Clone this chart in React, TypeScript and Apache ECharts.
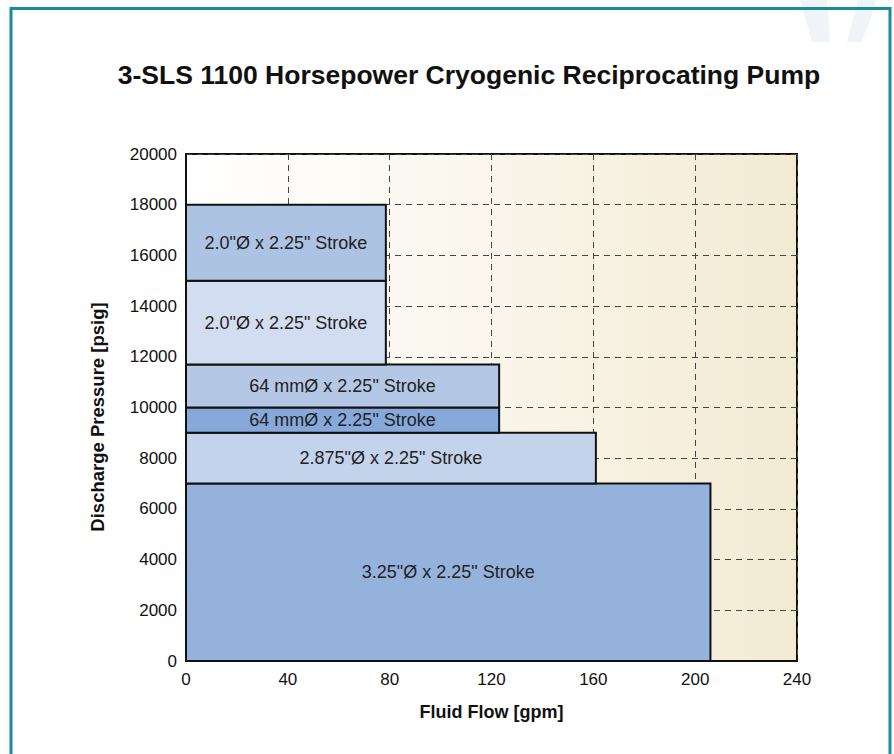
import React, { useEffect, useRef } from "react";
import * as echarts from "echarts";

const titleText = "3-SLS 1100 Horsepower Cryogenic Reciprocating Pump";
const xAxisName = "Fluid Flow [gpm]";
const yAxisName = "Discharge Pressure [psig]";

// Each block: flow range (gpm) and pressure range (psig)
const blockLabels = [
  "3.25\"Ø x 2.25\" Stroke",
  "2.875\"Ø x 2.25\" Stroke",
  "64 mmØ x 2.25\" Stroke",
  "64 mmØ x 2.25\" Stroke",
  "2.0\"Ø x 2.25\" Stroke",
  "2.0\"Ø x 2.25\" Stroke",
];
const flowMin = [0, 0, 0, 0, 0, 0];
const flowMax = [206, 161, 123, 123, 78.5, 78.5];
const pressureMin = [0, 7000, 9000, 10000, 11700, 15000];
const pressureMax = [7000, 9000, 10000, 11700, 15000, 18000];
const blockColors = ["#95b2dc", "#c4d3ec", "#86a8da", "#b4c8e6", "#d2ddf1", "#adc3e4"];

export default function App() {
  const ref = useRef<HTMLDivElement>(null);
  useEffect(() => {
    if (!ref.current) return;
    const chart = echarts.init(ref.current, null, { renderer: "svg" });
    const data = blockLabels.map((l, i) => [flowMin[i], flowMax[i], pressureMin[i], pressureMax[i], l, blockColors[i]]);
    const font = "'Liberation Sans', Arial, Helvetica, sans-serif";
    chart.setOption({
      animation: false,
      backgroundColor: "#ffffff",
      grid: {
        left: 186,
        right: 97,
        top: 154,
        bottom: 93,
        show: true,
        borderColor: "#111",
        borderWidth: 2,
        backgroundColor: new echarts.graphic.LinearGradient(0, 0, 1, 0, [
          { offset: 0, color: "#ffffff" },
          { offset: 0.4, color: "#fbf8f0" },
          { offset: 1, color: "#f3ead2" },
        ]),
      },
      xAxis: {
        type: "value",
        min: 0,
        max: 240,
        interval: 40,
        name: xAxisName,
        nameLocation: "middle",
        nameGap: 42,
        nameTextStyle: { fontFamily: font, fontWeight: "bold", fontSize: 18, color: "#111" },
        axisLine: { show: true, lineStyle: { color: "#111", width: 2 } },
        axisTick: { show: false },
        axisLabel: { fontFamily: font, fontSize: 17, color: "#111", margin: 10, formatter: (v: number) => String(v) },
        splitLine: { show: true, lineStyle: { color: "#444", type: [6, 5], width: 1 } },
      },
      yAxis: {
        type: "value",
        min: 0,
        max: 20000,
        interval: 2000,
        axisLine: { show: true, lineStyle: { color: "#111", width: 2 } },
        axisTick: { show: false },
        axisLabel: { fontFamily: font, fontSize: 17, color: "#111", margin: 9, formatter: (v: number) => String(v) },
        splitLine: { show: true, lineStyle: { color: "#444", type: [6, 5], width: 1 } },
      },
      graphic: [
        {
          type: "polygon",
          z: 0,
          shape: { points: [[800, 0], [827, 0], [830, 42], [812, 42]] },
          style: { fill: "#f0f3f7" },
        },
        {
          type: "polygon",
          z: 0,
          shape: { points: [[858, 0], [877, 0], [862, 42], [847, 42]] },
          style: { fill: "#f0f3f7" },
        },
        {
          type: "rect",
          z: 100,
          shape: { x: 11, y: 8.5, width: 879, height: 800 },
          style: { fill: "none", stroke: "#1a8b9d", lineWidth: 3 },
        },
        {
          type: "text",
          z: 100,
          x: 469,
          y: 75,
          style: {
            text: titleText,
            fontFamily: font,
            fontWeight: "bold",
            fontSize: 26.5,
            fill: "#111",
            textAlign: "center",
            textVerticalAlign: "middle",
          },
        },
        {
          type: "text",
          z: 100,
          x: 97,
          y: 417,
          rotation: Math.PI / 2,
          style: {
            text: yAxisName,
            fontFamily: font,
            fontWeight: "bold",
            fontSize: 18.5,
            fill: "#111",
            textAlign: "center",
            textVerticalAlign: "middle",
          },
        },
      ],
      series: [
        {
          type: "custom",
          data,
          encode: { x: [0, 1], y: [2, 3] },
          clip: false,
          renderItem: (params: any, api: any) => {
            const x0 = api.value(0);
            const x1 = api.value(1);
            const y0 = api.value(2);
            const y1 = api.value(3);
            const p0 = api.coord([x0, y1]);
            const p1 = api.coord([x1, y0]);
            const d = data[params.dataIndex];
            return {
              type: "group",
              children: [
                {
                  type: "rect",
                  shape: { x: p0[0], y: p0[1], width: p1[0] - p0[0], height: p1[1] - p0[1] },
                  style: { fill: d[5] as string, stroke: "#111", lineWidth: 2 },
                },
                {
                  type: "text",
                  x: (p0[0] + p1[0]) / 2,
                  y: (p0[1] + p1[1]) / 2,
                  style: {
                    text: d[4] as string,
                    fontFamily: font,
                    fontSize: 18,
                    fill: "#222",
                    textAlign: "center",
                    textVerticalAlign: "middle",
                  },
                },
              ],
            };
          },
        },
      ],
    });
    return () => chart.dispose();
  }, []);
  return <div ref={ref} style={{ position: "absolute", left: 0, top: 0, width: 894, height: 754 }} />;
}
